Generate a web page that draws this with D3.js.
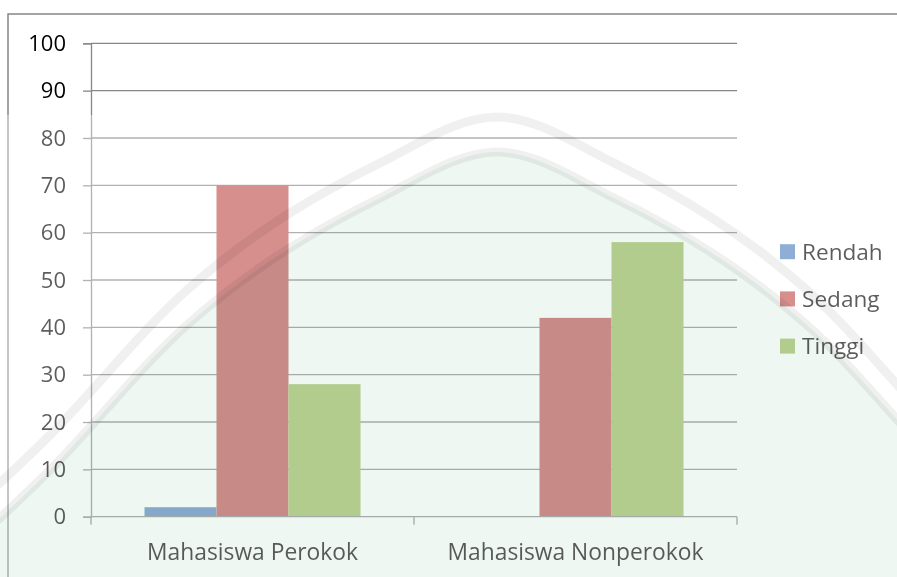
<!DOCTYPE html>
<html>
<head>
<meta charset="utf-8">
<script src="https://cdn.jsdelivr.net/npm/d3@7"></script>
<style>
  html, body { margin: 0; padding: 0; background: #fff; }
  svg { display: block; font-family: "Open Sans", sans-serif; }
</style>
</head>
<body>
<svg id="chart" width="897" height="577"></svg>
<script>
// chart data
var categories = ['Mahasiswa Perokok', 'Mahasiswa Nonperokok'];
var seriesNames = ['Rendah', 'Sedang', 'Tinggi'];
var rendah = [2, 0];
var sedang = [70, 42];
var tinggi = [28, 58];
var yTicks = [0, 10, 20, 30, 40, 50, 60, 70, 80, 90, 100];

var seriesValues = [rendah, sedang, tinggi];
var colors = ['#4f81bd', '#c0504d', '#9bbb59'];

var svg = d3.select('#chart');
var plot = { left: 91, right: 737, top: 43.3, bottom: 516.7 };

// scales
var x = d3.scaleBand().domain(categories).range([plot.left, plot.right]);
var xs = d3.scaleBand().domain(seriesNames).range([0, x.bandwidth()]).paddingOuter(0.743);
var y = d3.scaleLinear().domain([0, 100]).range([plot.bottom, plot.top]);

var axisColor = '#868686';

// outer frame
svg.append('rect')
  .attr('x', 8).attr('y', 14)
  .attr('width', 900).attr('height', 600)
  .attr('fill', 'none')
  .attr('stroke', axisColor)
  .attr('stroke-width', 1.5);

// y axis + labels
var yAxis = d3.axisLeft(y)
  .tickValues(yTicks)
  .tickSize(8)
  .tickPadding(17)
  .tickFormat(d3.format('d'));

var gy = svg.append('g')
  .attr('transform', 'translate(' + plot.left + ',0)')
  .call(yAxis)
  .attr('font-family', null)
  .attr('font-size', null);
gy.select('.domain').attr('stroke', axisColor).attr('stroke-width', 1.3);
gy.selectAll('.tick line').attr('stroke', axisColor).attr('stroke-width', 1.3);
gy.selectAll('.tick text')
  .attr('fill', '#000')
  .style('font-size', '22px');

// gridlines
svg.append('g').selectAll('line')
  .data(yTicks.filter(function(d) { return d > 0; }))
  .join('line')
  .attr('x1', plot.left).attr('x2', plot.right)
  .attr('y1', function(d) { return y(d); })
  .attr('y2', function(d) { return y(d); })
  .attr('stroke', axisColor)
  .attr('stroke-width', 1.3);

// bars
var groups = svg.append('g').selectAll('g')
  .data(categories)
  .join('g')
  .attr('transform', function(c) { return 'translate(' + x(c) + ',0)'; });

groups.selectAll('rect')
  .data(function(c, i) {
    return seriesNames.map(function(s, j) {
      return { series: s, value: seriesValues[j][i], color: colors[j] };
    });
  })
  .join('rect')
  .attr('x', function(d) { return xs(d.series); })
  .attr('width', xs.bandwidth())
  .attr('y', function(d) { return y(d.value); })
  .attr('height', function(d) { return y(0) - y(d.value); })
  .attr('fill', function(d) { return d.color; });

// x axis: line with ticks at category boundaries
var xBounds = categories.map(function(c) { return x(c); }).concat([plot.right]);
svg.append('line')
  .attr('x1', plot.left).attr('x2', plot.right)
  .attr('y1', y(0)).attr('y2', y(0))
  .attr('stroke', axisColor).attr('stroke-width', 1.3);
svg.append('g').selectAll('line')
  .data(xBounds)
  .join('line')
  .attr('x1', function(d) { return d; }).attr('x2', function(d) { return d; })
  .attr('y1', y(0)).attr('y2', y(0) + 8)
  .attr('stroke', axisColor).attr('stroke-width', 1.3);

svg.append('g').selectAll('text')
  .data(categories)
  .join('text')
  .attr('x', function(c) { return x(c) + x.bandwidth() / 2; })
  .attr('y', 560)
  .attr('text-anchor', 'middle')
  .attr('fill', '#000')
  .style('font-size', '22.8px')
  .text(function(c) { return c; });

// legend
var legend = svg.append('g').selectAll('g')
  .data(seriesNames)
  .join('g')
  .attr('transform', function(d, i) { return 'translate(780,' + (251.7 + i * 47.2) + ')'; });
legend.append('rect')
  .attr('x', 0).attr('y', -7.5)
  .attr('width', 15).attr('height', 15)
  .attr('fill', function(d, i) { return colors[i]; });
legend.append('text')
  .attr('x', 22).attr('dy', '0.35em')
  .attr('fill', '#000')
  .style('font-size', '22.6px')
  .text(function(d) { return d; });

/*
 * watermark (faded overlay over the lower part of the page)
 */
var wm = svg.append('g').attr('pointer-events', 'none');
wm.append('rect')
  .attr('x', 0).attr('y', 115)
  .attr('width', 897).attr('height', 462)
  .attr('fill', '#fff')
  .attr('opacity', 0.36);

// roof-like outline of the logo
var rim = [[-40, 520], [45, 440], [187, 290], [380, 163], [497, 117],
           [614, 163], [807, 290], [949, 440], [1034, 520]];
var rimLine = d3.line().curve(d3.curveMonotoneX);
var inner = rim.map(function(p) { return [p[0], p[1] + 35]; });

wm.append('path')
  .attr('d', rimLine(inner) + 'L1034,600L-40,600Z')
  .attr('fill', '#eef7f2')
  .style('mix-blend-mode', 'multiply');
[rim, inner].forEach(function(pts) {
  wm.append('path')
    .attr('d', rimLine(pts))
    .attr('fill', 'none')
    .attr('stroke', '#000')
    .attr('stroke-opacity', 0.06)
    .attr('stroke-width', 9);
});
</script>
</body>
</html>
